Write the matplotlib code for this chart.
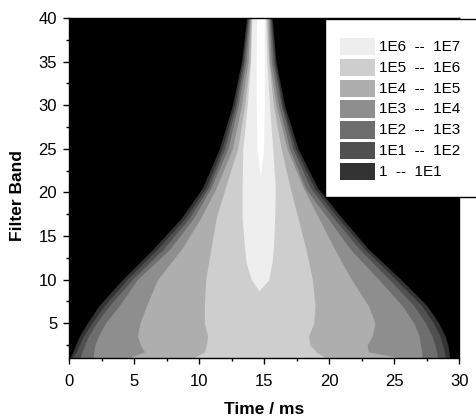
import matplotlib
matplotlib.use("Agg")
import matplotlib.pyplot as plt
from matplotlib.patches import Rectangle
from matplotlib.ticker import MultipleLocator

plt.rcParams['font.family'] = ['Liberation Sans', 'DejaVu Sans']

# ---- data: contour boundaries (time in ms) per filter band ----
bands = [1, 1.7, 2.5, 3.5, 5, 7, 10, 13.5, 17, 20.5, 25, 30, 35, 40]

left_1   = [0.05, 0.3, 0.5, 0.8, 1.4, 2.3, 4.1, 6.45, 8.6, 10.25, 11.55, 12.55, 13.25, 13.65]
right_1  = [29.25, 29.2, 29.1, 28.9, 28.4, 27.5, 25.5, 23.0, 21.0, 19.1, 17.6, 16.55, 15.9, 15.6]
left_2   = [0.2, 0.55, 0.8, 1.1, 1.75, 2.7, 4.45, 6.8, 8.9, 10.5, 11.75, 12.7, 13.35, 13.72]
right_2  = [28.9, 28.85, 28.7, 28.5, 28.0, 27.1, 25.1, 22.7, 20.7, 18.85, 17.4, 16.4, 15.8, 15.53]
left_3   = [0.85, 1.0, 1.2, 1.5, 2.1, 3.1, 4.85, 7.25, 9.2, 10.7, 11.95, 12.85, 13.45, 13.8]
right_3  = [28.3, 28.25, 28.1, 27.9, 27.4, 26.5, 24.6, 22.3, 20.35, 18.55, 17.2, 16.3, 15.7, 15.45]
left_4   = [1.85, 1.9, 2.0, 2.25, 2.8, 3.85, 5.25, 7.75, 9.55, 10.9, 12.2, 13.0, 13.6, 13.87]
right_4  = [27.1, 27.1, 27.0, 26.9, 26.5, 25.6, 23.8, 21.6, 19.9, 18.15, 16.95, 16.1, 15.55, 15.38]
left_5   = [4.5, 5.8, 5.5, 5.25, 5.45, 5.95, 6.8, 8.65, 10.1, 11.3, 12.55, 13.25, 13.75, 13.93]
right_5  = [25.5, 23.0, 22.9, 23.3, 23.5, 23.0, 21.7, 20.4, 19.2, 18.0, 16.75, 15.9, 15.4, 15.3]
left_6   = [9.6, 10.4, 10.55, 10.65, 10.4, 10.4, 10.5, 10.9, 11.3, 12.0, 12.95, 13.5, 13.9, 14.0]
right_6  = [19.7, 19.0, 18.5, 18.4, 18.8, 18.9, 18.7, 18.2, 17.6, 17.0, 16.3, 15.7, 15.35, 15.2]

bands_7 = [8.7, 10, 12, 13.5, 17, 20.5, 25, 30, 35, 40]
left_7  = [14.6, 14.0, 13.6, 13.5, 13.3, 13.3, 13.35, 13.7, 13.95, 14.05]
right_7 = [14.6, 15.35, 15.6, 15.7, 15.8, 15.85, 15.65, 15.4, 15.2, 15.1]

bands_8 = [21.8, 25, 30, 35, 40]
left_8  = [14.7, 14.45, 14.38, 14.38, 14.4]
right_8 = [14.7, 14.95, 15.0, 15.0, 14.98]

level_labels = ["1E6  --  1E7", "1E5  --  1E6", "1E4  --  1E5", "1E3  --  1E4",
                "1E2  --  1E3", "1E1  --  1E2", "1  --  1E1"]
level_colors = ["#eeeeee", "#cecece", "#aeaeae", "#8e8e8e", "#6e6e6e", "#505050", "#333333"]
core_color = "#ffffff"

W, H = 477, 419
fig = plt.figure(figsize=(W / 100, H / 100), dpi=100)
ax = fig.add_axes([69 / W, 1 - 358 / H, (459.5 - 69) / W, (358 - 18) / H])
ax.set_facecolor("black")

layers = [
    (bands, left_1, right_1, level_colors[6]),
    (bands, left_2, right_2, level_colors[5]),
    (bands, left_3, right_3, level_colors[4]),
    (bands, left_4, right_4, level_colors[3]),
    (bands, left_5, right_5, level_colors[2]),
    (bands, left_6, right_6, level_colors[1]),
    (bands_7, left_7, right_7, level_colors[0]),
    (bands_8, left_8, right_8, core_color),
]
for b, l, r, c in layers:
    ax.fill_betweenx(b, l, r, color=c, lw=0, antialiased=True)

ax.set_xlim(0, 30)
ax.set_ylim(1, 40)
ax.set_xticks(range(0, 31, 5))
ax.set_yticks(range(5, 41, 5))
ax.xaxis.set_minor_locator(MultipleLocator(2.5))
ax.yaxis.set_minor_locator(MultipleLocator(2.5))
ax.tick_params(which="major", direction="out", length=4.5, width=1, labelsize=12)
ax.tick_params(which="minor", direction="out", length=2.5, width=1)
ax.tick_params(axis="x", pad=7)
ax.tick_params(axis="y", pad=4)
for s in ax.spines.values():
    s.set_linewidth(1.0)

fig.text(264 / W, 1 - 409 / H, "Time / ms", ha="center", va="center",
         fontsize=12.5, fontweight="bold")
fig.text(18 / W, 1 - 196 / H, "Filter Band", ha="center", va="center",
         fontsize=12.5, fontweight="bold", rotation=90)

# legend box
fig.add_artist(Rectangle((325 / W, 1 - 197 / H), (480 - 325) / W, (197 - 19) / H,
                         transform=fig.transFigure, facecolor="white",
                         edgecolor="black", lw=1.0, zorder=5))
for i, (lab, col) in enumerate(zip(level_labels, level_colors)):
    top = 38 + i * 20.8
    fig.add_artist(Rectangle((340 / W, 1 - (top + 17.5) / H), 35 / W, 17.5 / H,
                             transform=fig.transFigure, facecolor=col,
                             edgecolor="none", zorder=6))
    fig.text(379 / W, 1 - (top + 9) / H, lab, ha="left", va="center",
             fontsize=11, zorder=7)

fig.savefig("out.png", dpi=100)
